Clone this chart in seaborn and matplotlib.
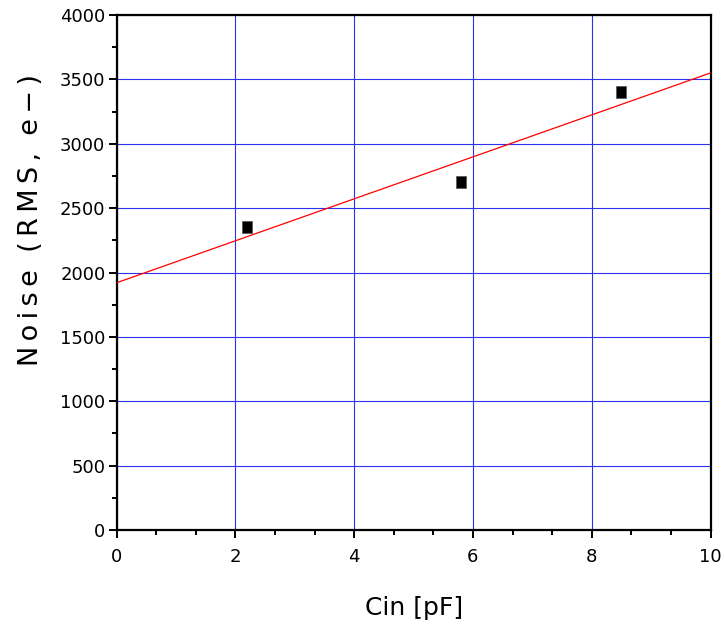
import matplotlib
matplotlib.use("Agg")
import matplotlib.pyplot as plt
import seaborn as sns
import pandas as pd
import numpy as np
from matplotlib.ticker import MultipleLocator

# Data
cin_pf = [2.2, 5.8, 8.5]
noise_rms = [2350, 2700, 3400]
fit_x = [0, 10]
fit_y = [1920, 3550]
x_ticks = [0, 2, 4, 6, 8, 10]
y_ticks = [0, 500, 1000, 1500, 2000, 2500, 3000, 3500, 4000]

sns.set_theme(style="white")
plt.rcParams['font.family'] = ['DejaVu Sans']

fig = plt.figure(figsize=(7.24, 6.29), dpi=100)
ax = fig.add_axes([116.5/724, 1-530/629, (710.5-116.5)/724, (530-15)/629])

df_pts = pd.DataFrame({"x": cin_pf, "y": noise_rms})
df_fit = pd.DataFrame({"x": fit_x, "y": fit_y})

ax.set_xlim(0, 10)
ax.set_ylim(0, 4000)
ax.set_xticks(x_ticks)
ax.set_yticks(y_ticks)
ax.xaxis.set_minor_locator(MultipleLocator(2/3))
ax.yaxis.set_minor_locator(MultipleLocator(250))
ax.grid(True, which="major", color="#3030f0", linewidth=0.8)
ax.set_axisbelow(True)

sns.lineplot(data=df_fit, x="x", y="y", ax=ax, color="#ff0000", linewidth=0.9, zorder=3)
rect = [(-0.42, -0.5), (0.42, -0.5), (0.42, 0.5), (-0.42, 0.5), (-0.42, -0.5)]
sns.scatterplot(data=df_pts, x="x", y="y", ax=ax, marker=rect, s=70, color="black",
                edgecolor="#555555", linewidth=0.5, zorder=4)

for s in ax.spines.values():
    s.set_color("black")
    s.set_linewidth(1.6)

ax.tick_params(axis="both", which="major", direction="out", length=6, width=1.4,
               color="black", labelsize=13, labelcolor="black")
ax.tick_params(axis="both", which="minor", direction="out", length=3.5, width=1.4, color="black")
ax.tick_params(axis="x", which="both", bottom=True, top=False, pad=7)
ax.tick_params(axis="y", which="both", left=True, right=False, pad=2)

ax.set_xlabel("")
ax.set_ylabel("")
fig.text(414/724, 1-608/629, "Cin [pF]", ha="center", va="center", fontsize=18, color="black")
ts = "\u2009"
ylab = ts.join("Noise") + "  " + ts.join("(RMS,") + "  " + ts.join("e−)")
fig.text(31/724, 1-220/629, ylab, ha="center", va="center",
         rotation=90, fontsize=19.5, color="black")

fig.savefig("out.png", dpi=100)
